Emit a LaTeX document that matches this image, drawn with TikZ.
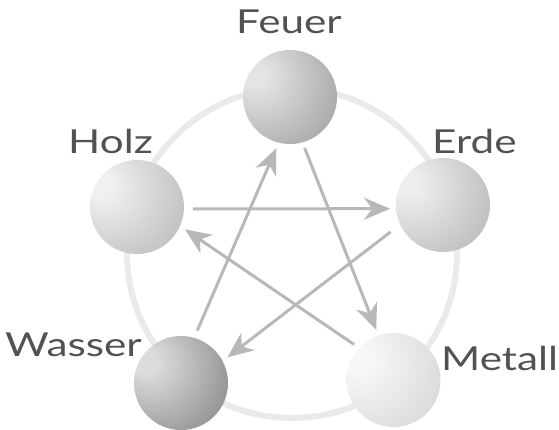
\documentclass[tikz,border=0pt]{standalone}
\usepackage{fontspec}
\newfontfamily\labelfont{Lato}[FakeStretch=1.28]
\usetikzlibrary{arrows.meta}
\definecolor{ringc}{HTML}{EAEAEA}
\definecolor{arrowc}{HTML}{B8B8B8}
\definecolor{textc}{HTML}{525252}
% sphere colours: highlight, middle, edge
\definecolor{feuerA}{HTML}{E4E4E4}\definecolor{feuerB}{HTML}{B0B0B0}\definecolor{feuerC}{HTML}{858585}
\definecolor{holzA}{HTML}{F0F0F0}\definecolor{holzB}{HTML}{C6C6C6}\definecolor{holzC}{HTML}{9C9C9C}
\definecolor{erdeA}{HTML}{EEEEEE}\definecolor{erdeB}{HTML}{C4C4C4}\definecolor{erdeC}{HTML}{A0A0A0}
\definecolor{wasserA}{HTML}{DCDCDC}\definecolor{wasserB}{HTML}{9C9C9C}\definecolor{wasserC}{HTML}{686868}
\definecolor{metallA}{HTML}{F8F8F8}\definecolor{metallB}{HTML}{DEDEDE}\definecolor{metallC}{HTML}{B6B6B6}
\newcommand\mksphereshade[4]{%
  \pgfdeclareradialshading{#1}{\pgfpoint{-20bp}{12bp}}{%
    color(0bp)=(#2); color(6bp)=(#2); color(36bp)=(#3); color(73bp)=(#4); color(100bp)=(#4)}}
\mksphereshade{shFeuer}{feuerA}{feuerB}{feuerC}
\mksphereshade{shHolz}{holzA}{holzB}{holzC}
\mksphereshade{shErde}{erdeA}{erdeB}{erdeC}
\mksphereshade{shWasser}{wasserA}{wasserB}{wasserC}
\mksphereshade{shMetall}{metallA}{metallB}{metallC}
\tikzset{
  sphere/.style={circle, minimum size=94pt, inner sep=0pt, outer sep=6pt, shading=#1},
  arr/.style={draw=arrowc, line width=3pt, -{Stealth[length=26pt,width=22pt,inset=8pt]}},
  lab/.style={text=textc, font=\labelfont\fontsize{33}{33}\selectfont, inner sep=0pt, anchor=base west},
  ring/.style={draw=ringc, line width=6pt}
}
\begin{document}
\begin{tikzpicture}[x=1pt,y=-1pt]
\path[use as bounding box] (0,0) rectangle (559,429);
\coordinate (rc) at (292,253);
\draw[ring] (rc) circle[radius=165];
\node[sphere=shFeuer] (feuer) at (290,97) {};
\node[sphere=shHolz] (holz) at (137,207) {};
\node[sphere=shErde] (erde) at (443,205) {};
\node[sphere=shWasser] (wasser) at (181,383) {};
\node[sphere=shMetall] (metall) at (393.5,380) {};
\draw[arr, shorten <=3pt] (holz.-2) -- (erde.184);
\draw[arr, shorten <=6pt] (erde.206) -- (wasser.29);
\draw[arr] (metall.138) -- (holz.-25);
\draw[arr, shorten <=2pt] (wasser.73) -- (feuer.255);
\draw[arr] (feuer.-74) -- (metall.109);
\node[lab] (lfeuer) at (236,33) {Feuer};
\node[lab] (lholz) at (68,153) {Holz};
\node[lab] (lerde) at (432,153) {Erde};
\node[lab] (lwasser) at (5,356) {Wasser};
\node[lab] (lmetall) at (441,370) {Metall};
\end{tikzpicture}
\end{document}
